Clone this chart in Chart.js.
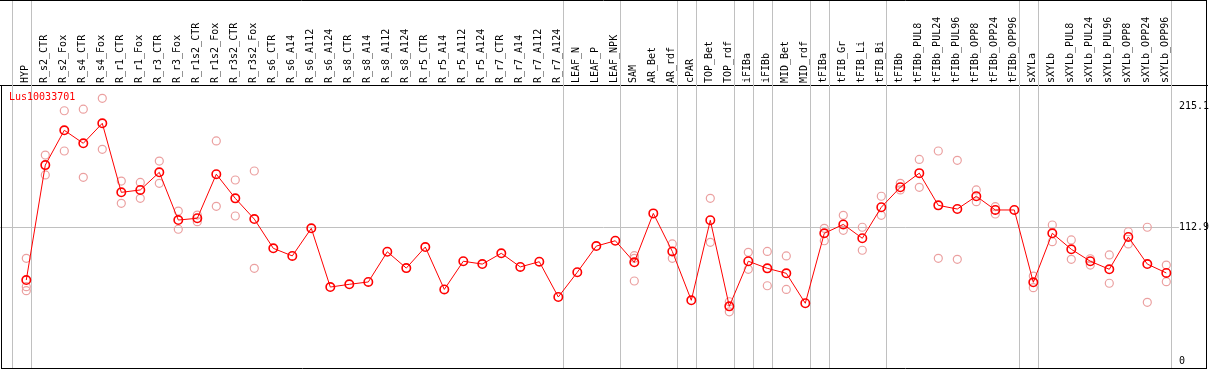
<!DOCTYPE html>
<html>
<head>
<meta charset="utf-8">
<script src="https://cdn.jsdelivr.net/npm/chart.js@4.4.0/dist/chart.umd.min.js"></script>
<style>
html,body{margin:0;padding:0;background:#fff;}
canvas{display:block;}
</style>
</head>
<body>
<canvas id="chart" width="1209" height="370"></canvas>
<script>
// samples, left to right
const categories = ['HYP','R_s2_CTR','R_s2_Fox','R_s4_CTR','R_s4_Fox','R_r1_CTR','R_r1_Fox','R_r3_CTR','R_r3_Fox',
  'R_r1s2_CTR','R_r1s2_Fox','R_r3s2_CTR','R_r3s2_Fox','R_s6_CTR','R_s6_A14','R_s6_A112','R_s6_A124',
  'R_s8_CTR','R_s8_A14','R_s8_A112','R_s8_A124','R_r5_CTR','R_r5_A14','R_r5_A112','R_r5_A124',
  'R_r7_CTR','R_r7_A14','R_r7_A112','R_r7_A124','LEAF_N','LEAF_P','LEAF_NPK','SAM','AR_Bet','AR_rdf',
  'cPAR','TOP_Bet','TOP_rdf','iFIBa','iFIBb','MID_Bet','MID_rdf','tFIBa','tFIB_Gr','tFIB_Li','tFIB_Bi',
  'tFIBb','tFIBb_PUL8','tFIBb_PUL24','tFIBb_PUL96','tFIBb_OPP8','tFIBb_OPP24','tFIBb_OPP96',
  'sXYLa','sXYLb','sXYLb_PUL8','sXYLb_PUL24','sXYLb_PUL96','sXYLb_OPP8','sXYLb_OPP24','sXYLb_OPP96'];

// mean expression per sample
const means = [68.7,165.8,195.2,184.2,201.1,142.8,144.8,159.7,119.4,120.9,158.1,137.7,120.2,95.5,89.1,
  112.4,62.8,65.1,67.1,92.6,78.8,96.6,60.8,84.6,82.2,91.3,79.8,84.2,54.4,75.3,97.4,101.9,83.7,125.0,
  92.9,51.6,119.2,46.5,84.6,78.6,74.4,49.1,108.2,115.7,104.0,130.2,147.1,159.0,131.8,128.7,139.5,
  127.9,127.9,66.8,108.2,94.7,84.6,77.8,105.1,82.2,74.7];

// replicates (null = none shown)
const rep1 = [87.1,174.3,211.7,213.0,222.2,152.3,151.2,169.2,127.0,123.6,186.2,153.2,160.8,
  null,null,null,null,null,null,null,null,null,null,null,null,null,null,null,null,null,null,null,
  89.3,null,99.2,null,137.7,50.4,92.1,92.9,89.1,null,112.4,123.4,113.3,139.5,150.4,170.6,177.7,
  169.8,144.8,130.7,null,72.1,115.2,102.6,86.7,89.9,109.5,113.3,81.4];
const rep2 = [63.1,157.5,177.7,155.5,179.1,133.5,137.7,150.4,111.6,118.0,131.0,122.8,78.6,
  null,null,null,null,null,null,null,null,null,null,null,null,null,null,null,null,null,null,null,
  67.9,null,87.1,null,100.6,41.9,77.8,63.9,60.8,null,101.9,110.7,93.9,123.4,144.8,147.0,87.1,
  86.2,134.9,124.5,null,62.3,101.1,86.2,81.4,66.0,99.2,49.9,67.3];
const rep3 = [59.7,null,null,null,null,null,null,null,null,null,null,null,null,
  null,null,null,null,null,null,null,null,null,null,null,null,null,null,null,null,null,null,null,
  87.1,null,null,null,null,null,null,null,null,null,null,null,null,null,null,null,null,
  null,null,null,null,null,null,null,null,null,null,null,null];

const yTicks = [0, 112.9, 215.1];
const gridValue = 112.9;
// last sample index of each group (-1 = before first)
const groupEnds = [-1, 0, 28, 31, 34, 35, 37, 38, 39, 41, 42, 45, 52, 53, 60];
const geneName = 'Lus10033701';

const RED = '#ff0000';
const PINK = '#eba0a0';
const GRAY = '#c0c0c0';
const FONT = {family: '"DejaVu Sans Mono", monospace', size: 10};

const toPts = arr => arr.map((v, i) => ({x: i, y: v}));

const overlay = {
  id: 'overlay',
  beforeDatasetsDraw(chart) {
    const {ctx, chartArea, scales: {x}} = chart;
    ctx.save();
    ctx.strokeStyle = GRAY;
    ctx.lineWidth = 1;
    groupEnds.forEach(i => {
      const px = Math.round(x.getPixelForValue(i + 0.23)) + 0.5;
      ctx.beginPath();
      ctx.moveTo(px, 0);
      ctx.lineTo(px, chartArea.bottom);
      ctx.stroke();
    });
    ctx.fillStyle = RED;
    ctx.font = '10px "DejaVu Sans Mono"';
    ctx.textBaseline = 'top';
    ctx.fillText(geneName, chartArea.left + 9, chartArea.top + 7);
    ctx.restore();
  },
  afterDraw(chart) {
    const {ctx, chartArea} = chart;
    ctx.save();
    ctx.strokeStyle = '#000';
    ctx.lineWidth = 1;
    ctx.beginPath();
    ctx.moveTo(0, 0.5); ctx.lineTo(chartArea.right, 0.5);
    ctx.moveTo(chartArea.right - 0.5, 0); ctx.lineTo(chartArea.right - 0.5, chartArea.bottom + 1);
    ctx.moveTo(1, chartArea.bottom + 0.5); ctx.lineTo(chartArea.right, chartArea.bottom + 0.5);
    ctx.moveTo(1.5, chartArea.top); ctx.lineTo(1.5, chartArea.bottom + 1);
    ctx.stroke();
    ctx.restore();
  }
};

const noPad = s => { s.paddingLeft = 0; s.paddingRight = 0; s.paddingTop = 0; s.paddingBottom = 0; };

const repStyle = {
  type: 'line', showLine: false, pointRadius: 4, pointHoverRadius: 4,
  pointBorderColor: PINK, pointBackgroundColor: 'rgba(0,0,0,0)', pointBorderWidth: 1.2
};

new Chart(document.getElementById('chart'), {
  type: 'line',
  data: {
    datasets: [
      {label: geneName, data: toPts(means), borderColor: RED, borderWidth: 1, tension: 0,
       pointRadius: 4.2, pointBorderColor: RED, pointBackgroundColor: 'rgba(0,0,0,0)', pointBorderWidth: 1.6},
      {...repStyle, data: toPts(rep1)},
      {...repStyle, data: toPts(rep2)},
      {...repStyle, data: toPts(rep3)}
    ]
  },
  options: {
    responsive: false,
    animation: false,
    layout: {autoPadding: false, padding: {left: 0, right: 0, top: 0, bottom: 2}},
    plugins: {legend: {display: false}, tooltip: {enabled: false}},
    scales: {
      x: {
        type: 'linear', position: 'top', min: -1.384, max: 62.142,
        afterBuildTicks: s => { s.ticks = categories.map((c, i) => ({value: i})); },
        afterFit: s => { s.height = 85; noPad(s); },
        grid: {display: false, drawTicks: false},
        border: {color: '#000'},
        ticks: {autoSkip: false, minRotation: 90, maxRotation: 90, padding: 2, labelOffset: 11,
                color: '#000', font: FONT, callback: v => categories[v] ?? ''}
      },
      y: {
        type: 'linear', position: 'right', min: -5.57, max: 233.45,
        afterBuildTicks: s => { s.ticks = yTicks.map(v => ({value: v})); },
        afterFit: s => { s.width = 2; noPad(s); },
        grid: {drawTicks: false, color: c => (c.tick && c.tick.value === gridValue) ? GRAY : 'rgba(0,0,0,0)'},
        border: {display: false},
        ticks: {mirror: true, crossAlign: 'far', padding: 2, color: '#000', font: FONT,
                showLabelBackdrop: true, backdropColor: '#fff', backdropPadding: 0,
                callback: v => String(v)}
      }
    }
  },
  plugins: [overlay]
});
</script>
</body>
</html>
